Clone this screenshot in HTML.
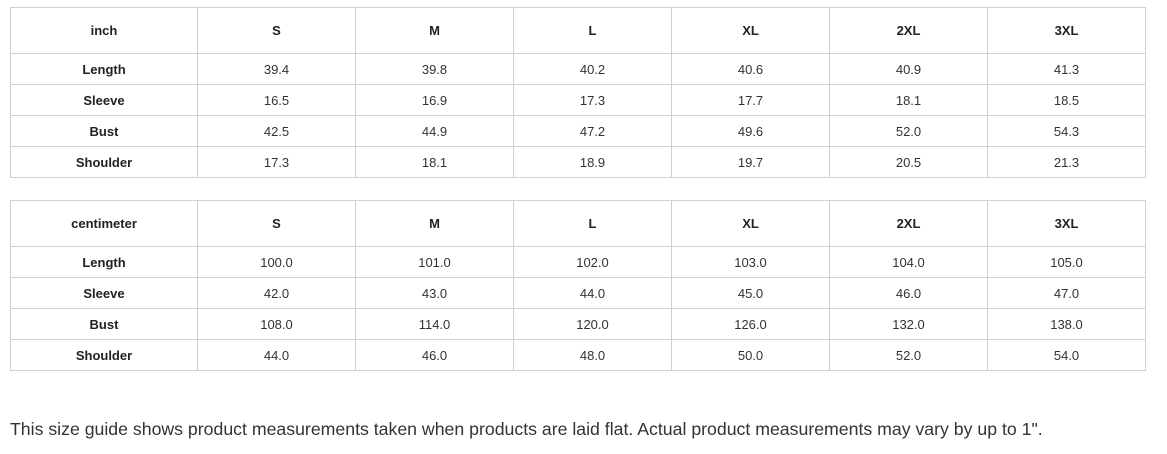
<!DOCTYPE html>
<html><head><meta charset="utf-8"><style>
body{margin:0;width:1167px;height:454px;background:#fff;font-family:"Liberation Sans",Arial,sans-serif;position:relative;overflow:hidden}
table{position:absolute;left:10px;border-collapse:collapse;table-layout:fixed;width:1136px}
td{border:1px solid #d0d0d0;text-align:center;font-size:13px;color:#333;padding:0;height:30px}
tr.h td{height:45px;font-weight:bold;color:#222}
td:first-child{font-weight:bold;color:#222}
#t1{top:7px}#t2{top:200px}
p{position:absolute;left:10px;top:419px;margin:0;font-size:17.7px;color:#333;white-space:nowrap}
</style></head><body>
<table id="t1"><colgroup><col style="width:187px"><col style="width:158px"><col style="width:158px"><col style="width:158px"><col style="width:158px"><col style="width:158px"><col style="width:158px"></colgroup>
<tr class="h"><td>inch</td><td>S</td><td>M</td><td>L</td><td>XL</td><td>2XL</td><td>3XL</td></tr>
<tr><td>Length</td><td>39.4</td><td>39.8</td><td>40.2</td><td>40.6</td><td>40.9</td><td>41.3</td></tr>
<tr><td>Sleeve</td><td>16.5</td><td>16.9</td><td>17.3</td><td>17.7</td><td>18.1</td><td>18.5</td></tr>
<tr><td>Bust</td><td>42.5</td><td>44.9</td><td>47.2</td><td>49.6</td><td>52.0</td><td>54.3</td></tr>
<tr><td>Shoulder</td><td>17.3</td><td>18.1</td><td>18.9</td><td>19.7</td><td>20.5</td><td>21.3</td></tr>
</table>
<table id="t2"><colgroup><col style="width:187px"><col style="width:158px"><col style="width:158px"><col style="width:158px"><col style="width:158px"><col style="width:158px"><col style="width:158px"></colgroup>
<tr class="h"><td>centimeter</td><td>S</td><td>M</td><td>L</td><td>XL</td><td>2XL</td><td>3XL</td></tr>
<tr><td>Length</td><td>100.0</td><td>101.0</td><td>102.0</td><td>103.0</td><td>104.0</td><td>105.0</td></tr>
<tr><td>Sleeve</td><td>42.0</td><td>43.0</td><td>44.0</td><td>45.0</td><td>46.0</td><td>47.0</td></tr>
<tr><td>Bust</td><td>108.0</td><td>114.0</td><td>120.0</td><td>126.0</td><td>132.0</td><td>138.0</td></tr>
<tr><td>Shoulder</td><td>44.0</td><td>46.0</td><td>48.0</td><td>50.0</td><td>52.0</td><td>54.0</td></tr>
</table>
<p>This size guide shows product measurements taken when products are laid flat. Actual product measurements may vary by up to 1".</p>
</body></html>
